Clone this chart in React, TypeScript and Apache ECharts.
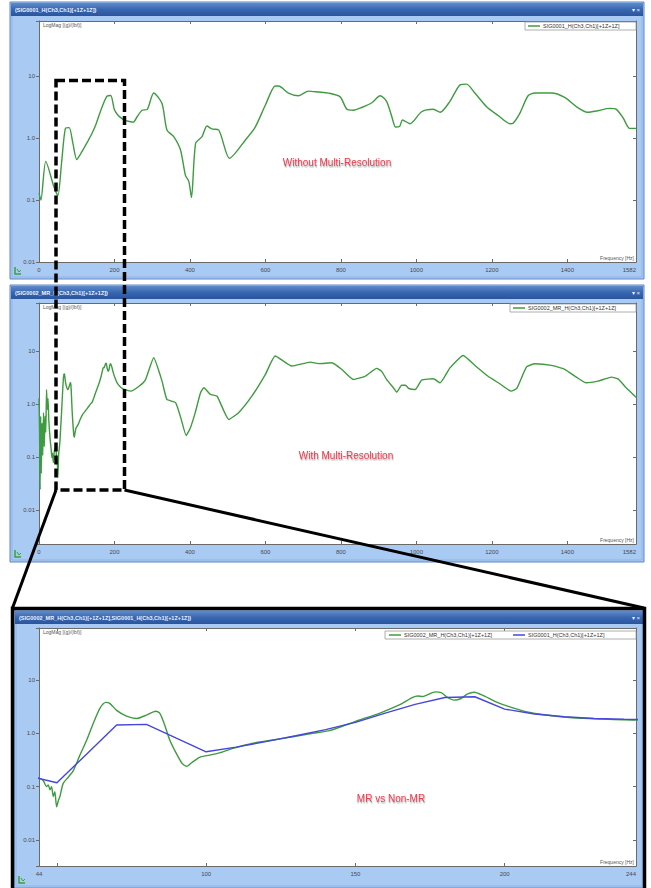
import React, { useEffect, useRef } from 'react';
import * as echarts from 'echarts';

// ---------------- data ----------------
const SIG1_NAME = 'SIG0001_H(Ch3,Ch1)[+1Z+1Z]';
const MR_NAME = 'SIG0002_MR_H(Ch3,Ch1)[+1Z+1Z]';
const TITLE1 = '(SIG0001_H(Ch3,Ch1)[+1Z+1Z])';
const TITLE2 = '(SIG0002_MR_H(Ch3,Ch1)[+1Z+1Z])';
const TITLE3 = '(SIG0002_MR_H(Ch3,Ch1)[+1Z+1Z],SIG0001_H(Ch3,Ch1)[+1Z+1Z])';
const Y_NAME = 'LogMag [(g)/(lbf)]';
const X_NAME = 'Frequency [Hz]';
const NOTE1 = 'Without Multi-Resolution';
const NOTE2 = 'With Multi-Resolution';
const NOTE3 = 'MR vs Non-MR';

// SIG0001 (no multi-resolution) : [Hz, (g)/(lbf)]
const sig1Points: [number, number][] = [
  [0, 0.13], [5, 0.1], [18, 0.42], [40, 0.16], [50, 0.118], [60, 0.41], [70, 1.43], [80, 1.47],
  [90, 0.81], [100, 0.45], [110, 0.55], [120, 0.7], [130, 0.9], [140, 1.17], [150, 1.6], [160, 2.4],
  [170, 3.5], [180, 4.7], [190, 4.85], [200, 2.85], [210, 2.3], [220, 2.05], [230, 1.9], [240, 1.84],
  [250, 1.8], [260, 2.2], [273, 2.8], [287, 2.9], [304, 5.3], [326, 3.6], [339, 1.35], [357, 1.05],
  [375, 0.64], [388, 0.25], [397, 0.2], [404, 0.11], [415, 0.82], [432, 1.05], [445, 1.56], [458, 1.4],
  [476, 1.35], [505, 0.47], [547, 0.93], [573, 1.5], [600, 3.4], [626, 6.9], [635, 6.9], [661, 5.3],
  [688, 4.8], [714, 5.7], [741, 5.5], [767, 5.3], [798, 4.6], [816, 2.9], [833, 2.8], [855, 3.1],
  [882, 3.7], [904, 4.8], [921, 3.9], [935, 2.2], [945, 1.5], [956, 1.55], [963, 1.95], [983, 1.7],
  [1014, 2.65], [1045, 2.9], [1063, 2.6], [1089, 3.9], [1116, 7.2], [1133, 7.4], [1155, 5.3],
  [1186, 3.2], [1217, 2.3], [1248, 1.7], [1257, 1.75], [1274, 2.5], [1296, 4.8], [1314, 5.3],
  [1358, 5.3], [1393, 4.5], [1424, 3.2], [1453, 2.6], [1481, 2.75], [1512, 3.0], [1530, 2.9],
  [1548, 2.1], [1565, 1.43], [1582, 1.43],
];

// SIG0002 (multi-resolution) : [Hz, (g)/(lbf)]
const mrPoints: [number, number][] = [
  [0, 1.3], [1.5, 0.3], [3, 0.025], [4.5, 0.6], [6, 0.05], [8, 0.45], [10, 0.11], [12, 0.7],
  [14, 0.16], [16, 0.6], [18, 0.3], [20, 1.9], [22, 0.8], [24, 1.3], [26, 0.5], [28, 0.3],
  [30, 0.2], [32, 0.15], [34, 0.1], [36, 0.12], [38, 0.08], [40, 0.12], [42, 0.15],
  [44, 0.144], [45.4, 0.13], [46.5, 0.1], [47.1, 0.107], [47.7, 0.087], [48.2, 0.1], [48.8, 0.065],
  [49.3, 0.08], [49.9, 0.042], [50.5, 0.055], [51, 0.065], [52.1, 0.115], [53.8, 0.15], [55.5, 0.2],
  [57.7, 0.39], [60, 0.75], [62.2, 1.54], [64.4, 2.95], [66.4, 3.8], [67.7, 3.65], [70, 2.7],
  [73.3, 2.1], [76.7, 1.9], [80, 2.2], [83.1, 2.6], [84.5, 2.37], [86.1, 1.43], [87.8, 0.75],
  [90, 0.42], [92, 0.27], [93.6, 0.24], [95.1, 0.28], [97.8, 0.355], [101.2, 0.39], [104.5, 0.43],
  [109, 0.52], [115.7, 0.65], [122.4, 0.75], [129, 0.86], [135.7, 1.0], [141.3, 1.12], [144.7, 1.3],
  [151.4, 1.78], [158, 2.37], [164.7, 3.4], [169.2, 4.7], [170.9, 5.0], [172.5, 4.9], [176.8, 6.0],
  [178.7, 5.8], [180.9, 4.7], [183.1, 4.2], [185.4, 4.5], [187.6, 5.5], [189.8, 5.9], [192.6, 5.2],
  [197.1, 3.9], [201.5, 3.16], [207.1, 2.55], [213.8, 2.2], [222.7, 1.96], [231.6, 1.86], [243.3, 1.78],
  [265, 2.2], [282, 2.9], [304, 7.6], [326, 2.75], [339, 1.24], [362, 1.08], [377, 0.52], [390, 0.26],
  [401, 0.36], [414, 0.7], [428, 1.66], [437, 2.06], [454, 1.55], [472, 1.43], [503, 0.52], [529, 0.7],
  [564, 1.43], [600, 3.7], [626, 8.2], [670, 5.3], [719, 6.3], [741, 5.9], [776, 6.1], [802, 4.6],
  [833, 2.96], [864, 3.4], [895, 4.8], [908, 4.2], [921, 2.96], [939, 2.07], [948, 1.7], [961, 2.3],
  [971, 2.3], [980, 2.0], [997, 1.92], [1014, 2.87], [1045, 3.05], [1063, 2.56], [1089, 4.9],
  [1124, 8.4], [1155, 5.45], [1190, 3.4], [1221, 2.46], [1251, 1.78], [1266, 2.0], [1292, 5.1],
  [1314, 5.85], [1358, 5.45], [1393, 4.6], [1424, 3.27], [1450, 2.56], [1481, 2.75], [1517, 3.27],
  [1535, 3.0], [1556, 2.07], [1582, 1.37],
];

// axis extents
const fullRange = [0, 1582];
const zoomRange = [44, 244];
const fullTickStep = 200;
const zoomTickValues = [50, 100, 150, 200];
const zoomLabelValues = [44, 100, 150, 200, 244];
const yRange1 = [0.01, 77];
const yRange2 = [0.00233, 82];
const yRange3 = [0.00324, 94.6];

// ---------------- styles ----------------
const GREEN = '#3f9b3f';
const BLUE = '#4646dc';
const FONT = 'Liberation Sans';
const AXIS_COLOR = '#6a6a6a';
const LABEL_COLOR = '#4a4a4a';
const WIN_BG = '#a9caf3';
const WIN_BORDER = '#5f86c2';

const decadeLabel = (v: number) => {
  const l = Math.log10(v);
  const r = Math.round(l);
  if (Math.abs(l - r) > 1e-3) return '';
  if (r === 0) return '1.0';
  if (r < 0) return Math.pow(10, r).toFixed(-r);
  return String(Math.round(Math.pow(10, r)));
};
const plainLabel = (v: number) => String(Math.round(v));

type Panel = {
  win: { x: number; y: number; w: number; h: number };
  grid: { left: number; top: number; width: number; height: number };
  title: string;
};

const panels: Panel[] = [
  { win: { x: 10, y: 2, w: 634, h: 277 }, grid: { left: 39, top: 21, width: 597, height: 241 }, title: TITLE1 },
  { win: { x: 10, y: 285, w: 634, h: 277 }, grid: { left: 39, top: 303, width: 597, height: 241 }, title: TITLE2 },
  { win: { x: 14, y: 610, w: 630, h: 278 }, grid: { left: 39, top: 628, width: 597, height: 238 }, title: TITLE3 },
];

function buildOption() {
  const grids = panels.map((p) => ({ ...p.grid, show: false, containLabel: false }));

  const xAxes: any[] = [];
  const yAxes: any[] = [];
  const yRanges = [yRange1, yRange2, yRange3];
  panels.forEach((p, i) => {
    const isZoom = i === 2;
    const xr = isZoom ? zoomRange : fullRange;
    const baseX: any = {
      type: 'value',
      gridIndex: i,
      min: xr[0],
      max: xr[1],
      splitLine: { show: false },
      axisLine: { show: true, onZero: false, lineStyle: { color: AXIS_COLOR, width: 1 } },
    };
    if (!isZoom) baseX.interval = fullTickStep;
    const tick = isZoom
      ? { show: true, inside: true, length: 3, customValues: zoomTickValues, lineStyle: { color: AXIS_COLOR } }
      : { show: true, inside: true, length: 3, lineStyle: { color: AXIS_COLOR } };
    const labelBase = { show: true, formatter: plainLabel, fontSize: 6, color: LABEL_COLOR, margin: 5, fontFamily: FONT, showMaxLabel: true, alignMaxLabel: 'right' };
    xAxes.push({
      ...baseX,
      position: 'bottom',
      axisTick: tick,
      axisLabel: isZoom ? { ...labelBase, customValues: zoomLabelValues } : labelBase,
    });
    xAxes.push({
      ...baseX,
      position: 'top',
      axisTick: tick,
      axisLabel: { show: false },
    });
    const yr = yRanges[i];
    const baseY: any = {
      type: 'log',
      logBase: 10,
      gridIndex: i,
      min: yr[0],
      max: yr[1],
      splitLine: { show: false },
      minorTick: { show: false },
      axisLine: { show: true, onZero: false, lineStyle: { color: AXIS_COLOR, width: 1 } },
    };
    yAxes.push({
      ...baseY,
      position: 'left',
      axisTick: { show: true, inside: false, length: 3, lineStyle: { color: AXIS_COLOR } },
      axisLabel: { show: true, formatter: decadeLabel, fontSize: 6, color: LABEL_COLOR, margin: 4, fontFamily: FONT },
    });
    yAxes.push({
      ...baseY,
      position: 'right',
      axisTick: { show: true, inside: true, length: 3, lineStyle: { color: AXIS_COLOR } },
      axisLabel: { show: false },
    });
  });

  const line = (name: string, data: [number, number][], idx: number, color: string, smooth: number | boolean) => ({
    type: 'line',
    name,
    xAxisIndex: idx * 2,
    yAxisIndex: idx * 2,
    data,
    symbol: 'none',
    showSymbol: false,
    smooth,
    clip: true,
    lineStyle: { color, width: 1.4 },
    itemStyle: { color },
    z: 3,
  });

  const series = [
    line(SIG1_NAME, sig1Points, 0, GREEN, 0.25),
    line(MR_NAME, mrPoints, 1, GREEN, 0.15),
    line(MR_NAME, mrPoints, 2, GREEN, 0.25),
    line(SIG1_NAME, sig1Points, 2, BLUE, false),
  ];

  const titleGrad = new echarts.graphic.LinearGradient(0, 0, 0, 1, [
    { offset: 0, color: '#5f8bcb' },
    { offset: 0.5, color: '#3866b0' },
    { offset: 1, color: '#2a559e' },
  ]);

  const g: any[] = [];
  panels.forEach((p) => {
    const { x, y, w, h } = p.win;
    g.push({ type: 'rect', z: -5, shape: { x, y, width: w, height: h }, style: { fill: WIN_BG, stroke: WIN_BORDER, lineWidth: 1 } });
    g.push({ type: 'rect', z: -5, shape: { x: x + 2, y: y + 2, width: w - 4, height: h - 4 }, style: { fill: 'none', stroke: '#8fb4e6', lineWidth: 1 } });
    g.push({ type: 'rect', z: -5, shape: { x: x + 1, y: y + 1, width: w - 2, height: 13 }, style: { fill: titleGrad } });
    g.push({ type: 'text', z: -4, x: x + 5, y: y + 8, style: { text: p.title, fill: '#eef4ff', font: `bold 5.5px "${FONT}"`, verticalAlign: 'middle' } });
    g.push({ type: 'text', z: -4, x: x + w - 4, y: y + 8, style: { text: '▾ ×', fill: '#eef4ff', font: `6px "${FONT}"`, align: 'right', verticalAlign: 'middle' } });
    const gr = p.grid;
    g.push({ type: 'rect', z: -5, shape: { x: gr.left, y: gr.top, width: gr.width, height: gr.height }, style: { fill: '#ffffff' } });
    g.push({ type: 'text', z: 5, x: gr.left + 4, y: gr.top + 4, style: { text: Y_NAME, fill: '#555', font: `5px "${FONT}"`, verticalAlign: 'middle' } });
    g.push({ type: 'text', z: 5, x: gr.left + gr.width - 2, y: gr.top + gr.height - 4, style: { text: X_NAME, fill: '#555', font: `5px "${FONT}"`, align: 'right', verticalAlign: 'middle' } });
    g.push({ type: 'polyline', z: -4, shape: { points: [[x + 5, y + h - 12], [x + 5, y + h - 5], [x + 11, y + h - 5]] }, style: { stroke: '#3aa33a', lineWidth: 1.5, fill: 'none' } });
    g.push({ type: 'polyline', z: -4, shape: { points: [[x + 7, y + h - 10], [x + 9, y + h - 7], [x + 11, y + h - 9]] }, style: { stroke: '#3aa33a', lineWidth: 1, fill: 'none' } });
  });

  // legends
  const legend = (bx: number, by: number, bw: number, items: { name: string; color: string; x: number }[]) => {
    g.push({ type: 'rect', z: 6, shape: { x: bx, y: by, width: bw, height: 8 }, style: { fill: '#fff', stroke: '#9a9a9a', lineWidth: 0.8 } });
    items.forEach((it) => {
      g.push({ type: 'line', z: 7, shape: { x1: it.x, y1: by + 4, x2: it.x + 12, y2: by + 4 }, style: { stroke: it.color, lineWidth: 1.5 } });
      g.push({ type: 'text', z: 7, x: it.x + 15, y: by + 4.3, style: { text: it.name, fill: '#333', font: `5.5px "${FONT}"`, verticalAlign: 'middle' } });
    });
  };
  legend(525, 22, 111, [{ name: SIG1_NAME, color: GREEN, x: 528 }]);
  legend(510, 304, 126, [{ name: MR_NAME, color: GREEN, x: 513 }]);
  legend(385, 631, 251, [
    { name: MR_NAME, color: GREEN, x: 389 },
    { name: SIG1_NAME, color: BLUE, x: 513 },
  ]);

  // annotations
  const note = (text: string, cx: number, cy: number) => ({
    type: 'text', z: 20, x: cx, y: cy,
    style: {
      text, fill: '#ee3a4c', font: `10px "${FONT}"`, align: 'center', verticalAlign: 'middle',
      backgroundColor: 'rgba(255,255,255,0.85)', padding: [1, 2], borderRadius: 2,
      textShadowColor: 'rgba(0,0,0,0.35)', textShadowBlur: 1.5, textShadowOffsetX: 0.5, textShadowOffsetY: 1.5,
    },
  });
  g.push(note(NOTE1, 337, 162));
  g.push(note(NOTE2, 346, 455));
  g.push(note(NOTE3, 391, 798));

  // zoom box and connector lines
  g.push({ type: 'rect', z: 50, shape: { x: 56, y: 80.5, width: 68.5, height: 409.5 }, style: { fill: 'none', stroke: '#000', lineWidth: 3.5, lineDash: [9, 4] } });
  g.push({ type: 'line', z: 50, shape: { x1: 56, y1: 490, x2: 12.5, y2: 608 }, style: { stroke: '#000', lineWidth: 3 } });
  g.push({ type: 'line', z: 50, shape: { x1: 124.5, y1: 490, x2: 644, y2: 608 }, style: { stroke: '#000', lineWidth: 3 } });
  g.push({ type: 'rect', z: 50, shape: { x: 12.5, y: 608.5, width: 632, height: 282 }, style: { fill: 'none', stroke: '#000', lineWidth: 3.5 } });

  return {
    animation: false,
    backgroundColor: '#ffffff',
    grid: grids,
    xAxis: xAxes,
    yAxis: yAxes,
    series,
    graphic: { elements: g },
  };
}

export default function App() {
  const ref = useRef<HTMLDivElement>(null);
  useEffect(() => {
    if (!ref.current) return;
    const chart = echarts.init(ref.current, undefined, { renderer: 'svg' });
    chart.setOption(buildOption() as any);
    return () => chart.dispose();
  }, []);
  return (
    <div
      ref={ref}
      style={{ position: 'absolute', left: 0, top: 0, width: 651, height: 888 }}
    />
  );
}
